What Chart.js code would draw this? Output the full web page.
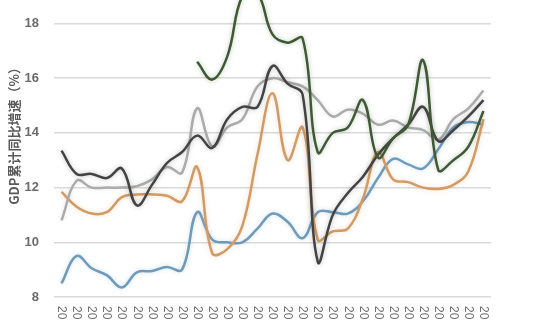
<!DOCTYPE html>
<html>
<head>
<meta charset="utf-8">
<script src="https://cdn.jsdelivr.net/npm/chart.js@4/dist/chart.umd.min.js"></script>
<style>
html,body{margin:0;padding:0;background:#fff;overflow:hidden;width:540px;height:320px;}
#c{position:absolute;left:0;top:-54px;}
</style>
</head>
<body>
<canvas id="c" width="540" height="382"></canvas>
<script>
const categories = ["2011Q1","2011Q2","2011Q3","2011Q4","2012Q1","2012Q2","2012Q3","2012Q4","2013Q1","2013Q2","2013Q3","2013Q4","2014Q1","2014Q2","2014Q3","2014Q4","2015Q1","2015Q2","2015Q3","2015Q4","2016Q1","2016Q2","2016Q3","2016Q4","2017Q1","2017Q2","2017Q3","2017Q4","2018Q1"];
const seriesBlue   = [8.5,9.5,9.05,8.8,8.35,8.9,8.95,9.1,9.0,11.1,10.1,10.0,10.0,10.5,11.05,10.75,10.15,11.1,11.1,11.05,11.5,12.35,13.05,12.85,12.7,13.4,14.2,14.4,14.3];
const seriesOrange = [11.84,11.3,11.05,11.1,11.65,11.75,11.75,11.7,11.5,12.75,9.6,9.75,10.6,13.2,15.45,13.0,14.2,10.1,10.4,10.5,11.6,13.3,12.3,12.2,12.0,11.95,12.1,12.6,14.5];
const seriesGray   = [10.8,12.25,12.0,12.0,12.0,12.05,12.3,12.75,12.55,14.9,13.5,14.2,14.5,15.7,16.0,15.85,15.7,15.2,14.6,14.85,14.7,14.3,14.45,14.2,14.1,13.75,14.5,14.9,15.55];
const seriesDark   = [13.35,12.5,12.5,12.35,12.7,11.35,12.1,12.9,13.3,13.9,13.45,14.5,14.95,14.95,16.45,15.8,15.4,9.3,11.0,11.8,12.4,13.2,13.8,14.3,14.95,13.7,14.1,14.6,15.2];
const seriesGreen  = [null,null,null,null,null,null,null,null,null,16.6,15.95,16.8,19.0,19.1,17.6,17.3,17.45,13.3,14.0,14.2,15.2,13.1,13.8,14.3,16.65,12.65,13.0,13.5,14.8];
const yTicks = [8,10,12,14,16,18,20];
const yTitle = "GDP累计同比增速（%）";

const glow = {
  id:'glow',
  beforeDatasetDraw(chart,args){
    const ctx=chart.ctx; ctx.save();
    ctx.shadowColor = args.meta.dataset.options.borderColor + '55';
    ctx.shadowBlur = 5;
  },
  afterDatasetDraw(chart){ chart.ctx.restore(); }
};
const xLabels = {
  id:'xLabels',
  afterDraw(chart){
    const ctx=chart.ctx, xs=chart.scales.x, bottom=chart.chartArea.bottom;
    ctx.save();
    ctx.fillStyle='#707070';
    ctx.font='12px "Liberation Sans", Arial, sans-serif';
    ctx.textAlign='left'; ctx.textBaseline='middle';
    categories.forEach((lab,i)=>{
      const x=xs.getPixelForValue(i);
      ctx.save(); ctx.translate(x,bottom+9); ctx.rotate(Math.PI/2);
      ctx.fillText(lab,0,0); ctx.restore();
    });
    ctx.restore();
  }
};
function ds(data,color){
  return {data,borderColor:color,backgroundColor:color,borderWidth:2.5,pointRadius:0,tension:0.4,fill:false,spanGaps:false};
}
new Chart(document.getElementById('c'),{
  type:'line',
  data:{labels:categories,datasets:[
    ds(seriesGreen,'#3e5934'),
    ds(seriesDark,'#434343'),
    ds(seriesGray,'#ababab'),
    ds(seriesOrange,'#d39a63'),
    ds(seriesBlue,'#6e9bbb')
  ]},
  options:{
    responsive:false,animation:false,devicePixelRatio:1,
    layout:{padding:{left:6,right:49,top:8,bottom:23}},
    plugins:{legend:{display:false},tooltip:{enabled:false}},
    scales:{
      x:{offset:true,grid:{display:false},border:{display:false},ticks:{display:false}},
      y:{min:8,max:20,
        afterBuildTicks(s){ s.ticks = yTicks.map(v=>({value:v})); },
        afterFit(s){ s.width = 48; },
        grid:{color:'#dadada',lineWidth:1.5,drawTicks:false},
        border:{display:false},
        ticks:{padding:15,color:'#6b6b6b',font:{family:'"Liberation Sans", Arial, sans-serif',size:13,weight:'bold'}},
        title:{display:true,text:yTitle,color:'#5a5a5a',padding:{top:0,bottom:2},font:{family:'"Noto Sans CJK SC", sans-serif',size:13,weight:'bold'}}
      }
    }
  },
  plugins:[glow,xLabels]
});
</script>
</body>
</html>
